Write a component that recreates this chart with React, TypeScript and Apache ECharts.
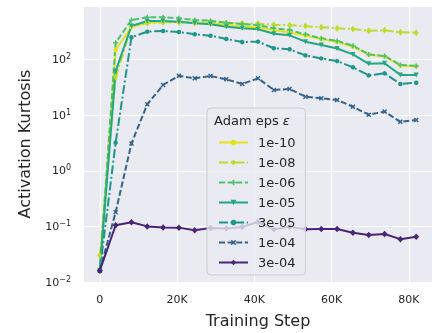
import React, { useEffect, useRef } from "react";
import * as echarts from "echarts";

const steps = [0, 4096, 8192, 12288, 16384, 20480, 24576, 28672, 32768, 36864, 40960, 45056, 49152, 53248, 57344, 61440, 65536, 69632, 73728, 77824, 81920];
const xTicks = [0, 20000, 40000, 60000, 80000];
const seriesNames = ["1e-10", "1e-08", "1e-06", "1e-05", "3e-05", "1e-04", "3e-04"];
const eps1e10 = [0.016, 149, 386, 465, 475, 475, 455, 450, 419, 394, 378, 340, 307, 271, 235, 207, 172, 124, 114, 78, 75];
const eps1e08 = [0.03, 48, 395, 450, 470, 470, 465, 470, 455, 445, 440, 425, 415, 400, 380, 366, 355, 330, 336, 310, 305];
const eps1e06 = [0.016, 201, 515, 576, 576, 553, 515, 501, 461, 437, 419, 366, 340, 285, 242, 216, 178, 124, 116, 80, 77];
const eps1e05 = [0.016, 62, 402, 495, 495, 481, 449, 431, 391, 366, 351, 292, 273, 210, 183, 158, 124, 84, 86, 53, 53];
const eps3e05 = [0.016, 3.2, 252, 318, 327, 313, 285, 269, 235, 207, 210, 160, 153, 119, 105, 94, 72.6, 52, 56.6, 36.4, 38.4];
const eps1e04 = [0.016, 0.18, 3.1, 15.7, 34.9, 51, 46, 50.7, 44.2, 36.4, 46, 28.4, 29.6, 21.5, 20.1, 18.8, 14.2, 10.2, 11.6, 7.6, 8.2];
const eps3e04 = [0.016, 0.105, 0.119, 0.1, 0.096, 0.095, 0.085, 0.094, 0.092, 0.098, 0.12, 0.089, 0.098, 0.089, 0.09, 0.09, 0.077, 0.07, 0.073, 0.059, 0.065];

const allValues = [eps1e10, eps1e08, eps1e06, eps1e05, eps3e05, eps1e04, eps3e04];
const colors = ["#e2e31b", "#b8de29", "#4cc26c", "#23a883", "#1f968b", "#33638d", "#482576"];
const DASH = [6, 2.6];
const DASHDOT = [9, 2.6, 2, 2.6];
const lineTypes: any[] = ["solid", DASHDOT, DASH, "solid", DASHDOT, DASH, "solid"];
const X_SYM = "path://M0,2 L2,0 L5,3 L8,0 L10,2 L7,5 L10,8 L8,10 L5,7 L2,10 L0,8 L3,5 Z";
const PLUS_SYM = "path://M3.5,0 H6.5 V3.5 H10 V6.5 H6.5 V10 H3.5 V6.5 H0 V3.5 H3.5 Z";
const symbols = ["circle", "diamond", PLUS_SYM, "triangle", "circle", X_SYM, "diamond"];
const symbolSizes: any[] = [4.5, [5, 7], 5, 5, 4.5, 5, [6, 6.5]];
const symbolRotates = [0, 0, 0, 180, 0, 0, 0];

const FONT = "DejaVu Sans";
const TXT = "#262626";

function supLabel(v: number) {
  const l = Math.log10(v);
  const e = Math.round(l);
  if (Math.abs(l - e) > 1e-6) return "";
  const s = e < 0 ? "\u2212" + -e : String(e);
  return "{b|10}{s|" + s + "}";
}

export default function App() {
  const ref = useRef<HTMLDivElement>(null);
  useEffect(() => {
    const chart = echarts.init(ref.current!, undefined, { renderer: "svg" });
    const series = seriesNames.map((name, i) => ({
      name,
      type: "line",
      data: steps.map((s, j) => [s, allValues[i][j]]),
      symbol: symbols[i],
      symbolSize: symbolSizes[i],
      symbolRotate: symbolRotates[i],
      showSymbol: true,
      lineStyle: { color: colors[i], width: 2, type: lineTypes[i] },
      itemStyle: { color: colors[i] },
      emphasis: { disabled: true },
    }));
    chart.setOption({
      animation: false,
      textStyle: { fontFamily: FONT },
      grid: {
        left: 84,
        right: 4,
        top: 6,
        bottom: 51,
        show: true,
        backgroundColor: "#eaeaf2",
        borderWidth: 0,
      },
      xAxis: {
        type: "value",
        min: -4096,
        max: 86016,
        name: "Training Step",
        nameLocation: "middle",
        nameGap: 30,
        nameTextStyle: { fontSize: 16, color: TXT, fontFamily: FONT },
        axisLine: { show: false },
        axisTick: { show: false, customValues: xTicks },
        axisLabel: {
          customValues: xTicks,
          fontSize: 11,
          color: TXT,
          margin: 12,
          fontFamily: FONT,
          formatter: (v: number) => (v === 0 ? "0" : Math.round(v / 1000) + "K"),
        },
        splitLine: { show: true, lineStyle: { color: "#ffffff", width: 1.2 } },
      },
      yAxis: {
        type: "log",
        logBase: 10,
        min: 0.01,
        max: 920,
        name: "Activation Kurtosis",
        nameLocation: "middle",
        nameGap: 52,
        nameTextStyle: { fontSize: 16, color: TXT, fontFamily: FONT },
        axisLine: { show: false },
        axisTick: { show: false },
        axisLabel: {
          color: TXT,
          margin: 13,
          fontFamily: FONT,
          formatter: supLabel,
          rich: {
            b: { fontSize: 11, color: TXT, fontFamily: FONT },
            s: { fontSize: 8, color: TXT, fontFamily: FONT, verticalAlign: "top", padding: [0, 0, 6, 0] },
          },
        },
        splitLine: { show: true, lineStyle: { color: "#ffffff", width: 1.2 } },
      },
      legend: {
        orient: "vertical",
        left: 207,
        top: 108,
        padding: [28, 10, 6, 11],
        itemGap: 7,
        itemWidth: 29,
        itemHeight: 7,
        backgroundColor: "rgba(234,234,242,0.8)",
        borderColor: "#cccccc",
        borderWidth: 1,
        borderRadius: 4,
        data: seriesNames,
        textStyle: { fontSize: 13, color: TXT, fontFamily: FONT, padding: [0, 0, 0, 5] },
        selectedMode: false,
      },
      graphic: [
        {
          type: "text",
          left: 214,
          top: 114,
          z: 100,
          style: {
            text: "Adam eps {i|ε}",
            fontSize: 13,
            fill: TXT,
            fontFamily: FONT,
            rich: { i: { fontStyle: "italic", fontSize: 13, fontFamily: FONT, fill: TXT } },
          },
        },
      ],
      series,
    });
    return () => chart.dispose();
  }, []);
  return (
    <div
      ref={ref}
      style={{ position: "fixed", left: 0, top: 0, width: 436, height: 333 }}
    />
  );
}
